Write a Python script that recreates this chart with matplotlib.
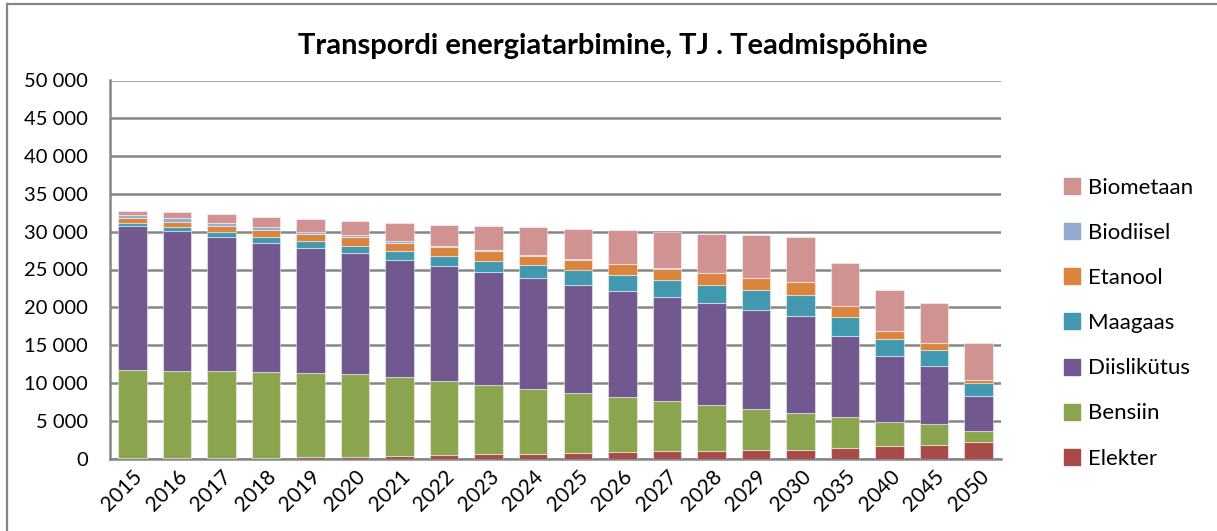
import numpy as np
import matplotlib
matplotlib.use('Agg')
import matplotlib.pyplot as plt
from matplotlib.ticker import FuncFormatter
from matplotlib.lines import Line2D

plt.rcParams['font.family'] = ['Lato', 'DejaVu Sans']

years = ['2015', '2016', '2017', '2018', '2019', '2020', '2021', '2022', '2023', '2024',
         '2025', '2026', '2027', '2028', '2029', '2030', '2035', '2040', '2045', '2050']

# TJ
elekter = [50, 50, 80, 50, 150, 200, 350, 490, 570, 620,
           750, 830, 930, 1020, 1060, 1150, 1420, 1680, 1810, 2210]
bensiin = [11680, 11550, 11430, 11370, 11190, 11040, 10460, 9700, 9130, 8600,
           7940, 7330, 6740, 6120, 5550, 4930, 4040, 3120, 2730, 1450]
diislikytus = [19050, 18470, 17820, 17110, 16480, 15920, 15470, 15300, 14940, 14630,
               14290, 14020, 13720, 13400, 13060, 12800, 10770, 8780, 7670, 4580]
maagaas = [400, 530, 660, 800, 920, 1010, 1190, 1360, 1550, 1720,
           1930, 2120, 2250, 2430, 2640, 2810, 2510, 2250, 2170, 1720]
etanool = [570, 620, 740, 920, 980, 1100, 1100, 1190, 1230, 1270,
           1410, 1440, 1490, 1590, 1590, 1630, 1370, 1010, 870, 400]
biodiisel = [430, 530, 360, 310, 270, 230, 230, 130, 180, 100,
             100, 50, 30, 0, 0, 0, 0, 0, 0, 0]
biometaan = [620, 790, 1190, 1410, 1660, 1850, 2320, 2780, 3130, 3620,
             3960, 4370, 4860, 5200, 5600, 6000, 5720, 5510, 5350, 4980]

series = [('Elekter', elekter, '#A84A48'),
          ('Bensiin', bensiin, '#8BA44E'),
          ('Diislikütus', diislikytus, '#71588F'),
          ('Maagaas', maagaas, '#4198AF'),
          ('Etanool', etanool, '#DB843D'),
          ('Biodiisel', biodiisel, '#93A9CF'),
          ('Biometaan', biometaan, '#D19392')]

W, H = 1217, 531
fig = plt.figure(figsize=(W / 100, H / 100), dpi=100)
ax = fig.add_axes([110 / W, (H - 458.5) / H, (1001 - 110) / W, (458.5 - 80.5) / H])

x = np.arange(len(years))
bottom = np.zeros(len(years))
handles = []
for name, vals, col in series:
    vals = np.array(vals, dtype=float)
    ax.bar(x, vals, 0.64, bottom=bottom, color=col, edgecolor=(1, 1, 1, 0.45),
           linewidth=0.8, zorder=3)
    bottom += vals
    handles.append(Line2D([], [], marker='s', linestyle='none', markersize=11,
                          markerfacecolor=col, markeredgecolor=col, label=name))

ax.set_xlim(-0.5, len(years) - 0.5)
ax.set_ylim(0, 50000)
ax.set_yticks(np.arange(0, 50001, 5000))
ax.yaxis.set_major_formatter(FuncFormatter(lambda v, p: f'{int(v):,}'.replace(',', ' ')))
ax.set_xticks(x)
ax.set_xticklabels(years, rotation=45, ha='right', rotation_mode='anchor')
ax.tick_params(axis='both', length=0)
ax.tick_params(axis='y', pad=16, labelsize=14.5)
ax.tick_params(axis='x', pad=6, labelsize=15)
ax.grid(axis='y', color='#868686', linewidth=1.8, zorder=0)
ax.set_axisbelow(True)
for s in ['top', 'right']:
    ax.spines[s].set_visible(False)
for s in ['left', 'bottom']:
    ax.spines[s].set_color('#868686')
    ax.spines[s].set_linewidth(1.8)

fig.text(613 / W, 1 - 46 / H, 'Transpordi energiatarbimine, TJ . Teadmispõhine',
         ha='center', va='center', fontsize=21, fontweight='bold')

fig.legend(handles=handles[::-1], loc='upper left', bbox_to_anchor=(1052 / W, 1 - 169 / H),
           frameon=False, fontsize=16, labelspacing=1.13, handletextpad=0.2,
           handlelength=1.0, borderaxespad=0)

# chart area frame (left and top edges visible in the reference)
fig.add_artist(Line2D([7 / W, 7 / W], [0, 1 - 4 / H], transform=fig.transFigure,
                      color='#868686', linewidth=1.6))
fig.add_artist(Line2D([7 / W, 1], [1 - 4 / H, 1 - 4 / H], transform=fig.transFigure,
                      color='#868686', linewidth=1.6))

fig.savefig('out.png', dpi=100)
